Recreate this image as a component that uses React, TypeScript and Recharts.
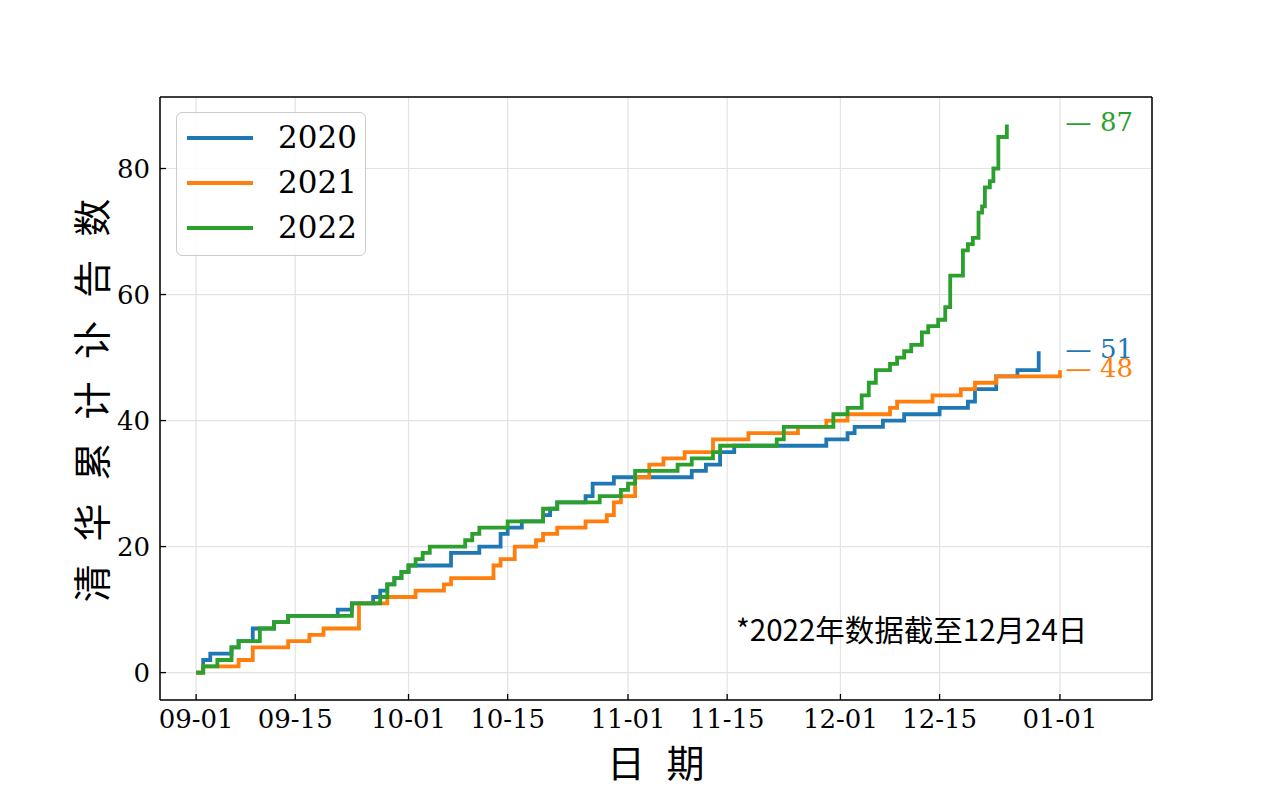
import React from 'react';
import { LineChart, Line, XAxis, YAxis, CartesianGrid, Legend, ReferenceDot } from 'recharts';

// x = days since 09-01, y = cumulative count
const tickDays = [0, 14, 30, 44, 61, 75, 91, 105, 122];
const tickLabels = ['09-01', '09-15', '10-01', '10-15', '11-01', '11-15', '12-01', '12-15', '01-01'];
const yTicks = [0, 20, 40, 60, 80];

const days2020 = [0, 1, 2, 5, 6, 8, 11, 13, 20, 22, 25, 26, 27, 28, 29, 30, 36, 40, 43, 44, 46, 49, 50, 51, 55, 56, 59, 70, 72, 74, 76, 89, 92, 93, 97, 100, 105, 109, 110, 113, 116, 119];
const counts2020 = [0, 2, 3, 4, 5, 7, 8, 9, 10, 11, 12, 13, 14, 15, 16, 17, 19, 20, 22, 23, 24, 25, 26, 27, 28, 30, 31, 32, 33, 35, 36, 37, 38, 39, 40, 41, 42, 43, 45, 47, 48, 51];

const days2021 = [0, 1, 6, 8, 13, 16, 18, 23, 27, 31, 35, 36, 42, 43, 45, 48, 49, 51, 55, 58, 59, 60, 62, 64, 66, 69, 73, 78, 85, 89, 92, 98, 99, 104, 108, 110, 113, 122];
const counts2021 = [0, 1, 2, 4, 5, 6, 7, 11, 12, 13, 14, 15, 17, 18, 20, 21, 22, 23, 24, 25, 27, 28, 31, 33, 34, 35, 37, 38, 39, 40, 41, 42, 43, 44, 45, 46, 47, 48];

const days2022 = [0, 1, 3, 5, 6, 9, 11, 13, 22, 26, 27, 28, 29, 30, 31, 32, 33, 38, 39, 40, 44, 49, 51, 57, 60, 61, 62, 68, 70, 73, 74, 82, 83, 90, 92, 94, 95, 96, 98, 99, 100, 101, 102.5, 103.4, 104.8, 105.8, 106.5, 108.3, 109, 109.7, 110.5, 111, 111.4, 112.1, 112.6, 113.3, 114.5];
const counts2022 = [0, 1, 2, 4, 5, 7, 8, 9, 11, 12, 14, 15, 16, 17, 18, 19, 20, 21, 22, 23, 24, 26, 27, 28, 29, 30, 32, 33, 34, 35, 36, 37, 39, 41, 42, 44, 46, 48, 49, 50, 51, 52, 54, 55, 56, 58, 63, 67, 68, 69, 73, 74, 77, 78, 80, 85, 87];

const xDomain = [-5.1, 135];
const yDomain = [-4.35, 91.35];
const endLabelDay = 122.8;

const serif = '"DejaVu Serif", serif';
const cjk = '"Noto Sans CJK SC", sans-serif';

const toPoints = (days: number[], counts: number[]) => days.map((d, i) => ({ d, v: counts[i] }));

const series = [
  { name: '2020', color: '#1f77b4', data: toPoints(days2020, counts2020) },
  { name: '2021', color: '#ff7f0e', data: toPoints(days2021, counts2021) },
  { name: '2022', color: '#2ca02c', data: toPoints(days2022, counts2022) },
];

function XTick({ x, y, payload }: any) {
  const label = tickLabels[tickDays.indexOf(payload.value)];
  return (
    <g>
      <line x1={x} x2={x} y1={y} y2={y - 6} stroke="#000" strokeWidth={1.3} />
      <text x={x} y={y + 28} textAnchor="middle" fontFamily={serif} fontSize={26} fill="#000">
        {label}
      </text>
    </g>
  );
}

function YTick({ x, y, payload }: any) {
  return (
    <g>
      <line x1={x} x2={x + 6} y1={y} y2={y} stroke="#000" strokeWidth={1.3} />
      <text x={x - 10} y={y + 9} textAnchor="end" fontFamily={serif} fontSize={26} fill="#000">
        {payload.value}
      </text>
    </g>
  );
}

function LegendBox({ payload }: any) {
  return (
    <div
      style={{
        width: 190,
        height: 144,
        boxSizing: 'border-box',
        border: '1px solid #cccccc',
        borderRadius: 6,
        background: 'rgba(255,255,255,0.85)',
        padding: '2px 0 0 10px',
      }}
    >
      {(payload || []).map((p: any) => (
        <div key={p.value} style={{ display: 'flex', alignItems: 'center', height: 45 }}>
          <div style={{ width: 66, height: 4, background: p.color }} />
          <span style={{ marginLeft: 25, fontFamily: serif, fontSize: 31, lineHeight: '45px', color: '#000' }}>
            {p.value}
          </span>
        </div>
      ))}
    </div>
  );
}

export default function App() {
  return (
    <div style={{ position: 'absolute', left: 0, top: 0, width: 1280, height: 800, background: '#fff' }}>
      <LineChart width={1280} height={800} margin={{ top: 96, right: 127, bottom: 99, left: 159 }}>
        <CartesianGrid stroke="#e3e3e3" strokeWidth={1.2} />
        <XAxis
          dataKey="d"
          type="number"
          domain={xDomain}
          ticks={tickDays}
          allowDataOverflow
          height={1}
          tickSize={0}
          tickMargin={0}
          tickLine={false}
          tick={<XTick />}
          axisLine={{ stroke: '#000', strokeWidth: 1.5 }}
          label={{
            content: () => (
              <text x={659} y={760} textAnchor="middle" dominantBaseline="central" fontFamily={cjk} fontSize={38} letterSpacing={6.5} fill="#000">
                日 期
              </text>
            ),
          }}
        />
        <XAxis
          xAxisId="top"
          orientation="top"
          type="number"
          domain={xDomain}
          height={1}
          tick={false}
          tickLine={false}
          axisLine={{ stroke: '#000', strokeWidth: 1.5 }}
        />
        <YAxis
          type="number"
          domain={yDomain}
          ticks={yTicks}
          allowDataOverflow
          width={1}
          tickSize={0}
          tickMargin={0}
          tickLine={false}
          tick={<YTick />}
          axisLine={{ stroke: '#000', strokeWidth: 1.5 }}
          label={{
            content: () => (
              <text
                x={89}
                y={397}
                transform="rotate(-90 89 397)"
                textAnchor="middle"
                dominantBaseline="central"
                fontFamily={cjk}
                fontSize={38}
                letterSpacing={7.2}
                fill="#000"
              >
                清 华 累 计 讣 告 数
              </text>
            ),
          }}
        />
        <YAxis
          yAxisId="right"
          orientation="right"
          type="number"
          domain={yDomain}
          width={1}
          tick={false}
          tickLine={false}
          axisLine={{ stroke: '#000', strokeWidth: 1.5 }}
        />
        {series.map((s) => (
          <Line
            key={s.name}
            data={s.data}
            dataKey="v"
            name={s.name}
            type="stepAfter"
            stroke={s.color}
            strokeWidth={3.8}
            dot={false}
            activeDot={false}
            isAnimationActive={false}
          />
        ))}
        {series.map((s) => {
          const last = s.data[s.data.length - 1].v;
          return (
            <ReferenceDot
              key={'end' + s.name}
              x={endLabelDay}
              y={last}
              r={0}
              ifOverflow="visible"
              shape={(p: any) => (
                <text x={p.cx} y={p.cy} dy="0.26em" fill={s.color} fontFamily={serif} fontSize={26}>
                  — {last}
                </text>
              )}
            />
          );
        })}
        <Legend
          layout="vertical"
          align="center"
          verticalAlign="middle"
          content={<LegendBox />}
          wrapperStyle={{ left: 176, top: 112, width: 190 }}
        />
      </LineChart>
      <div
        style={{
          position: 'absolute',
          left: 736,
          top: 628,
          transform: 'translateY(-50%)',
          fontFamily: cjk,
          fontSize: 29.5,
          color: '#000',
          whiteSpace: 'nowrap',
        }}
      >
        *2022年数据截至12月24日
      </div>
    </div>
  );
}
